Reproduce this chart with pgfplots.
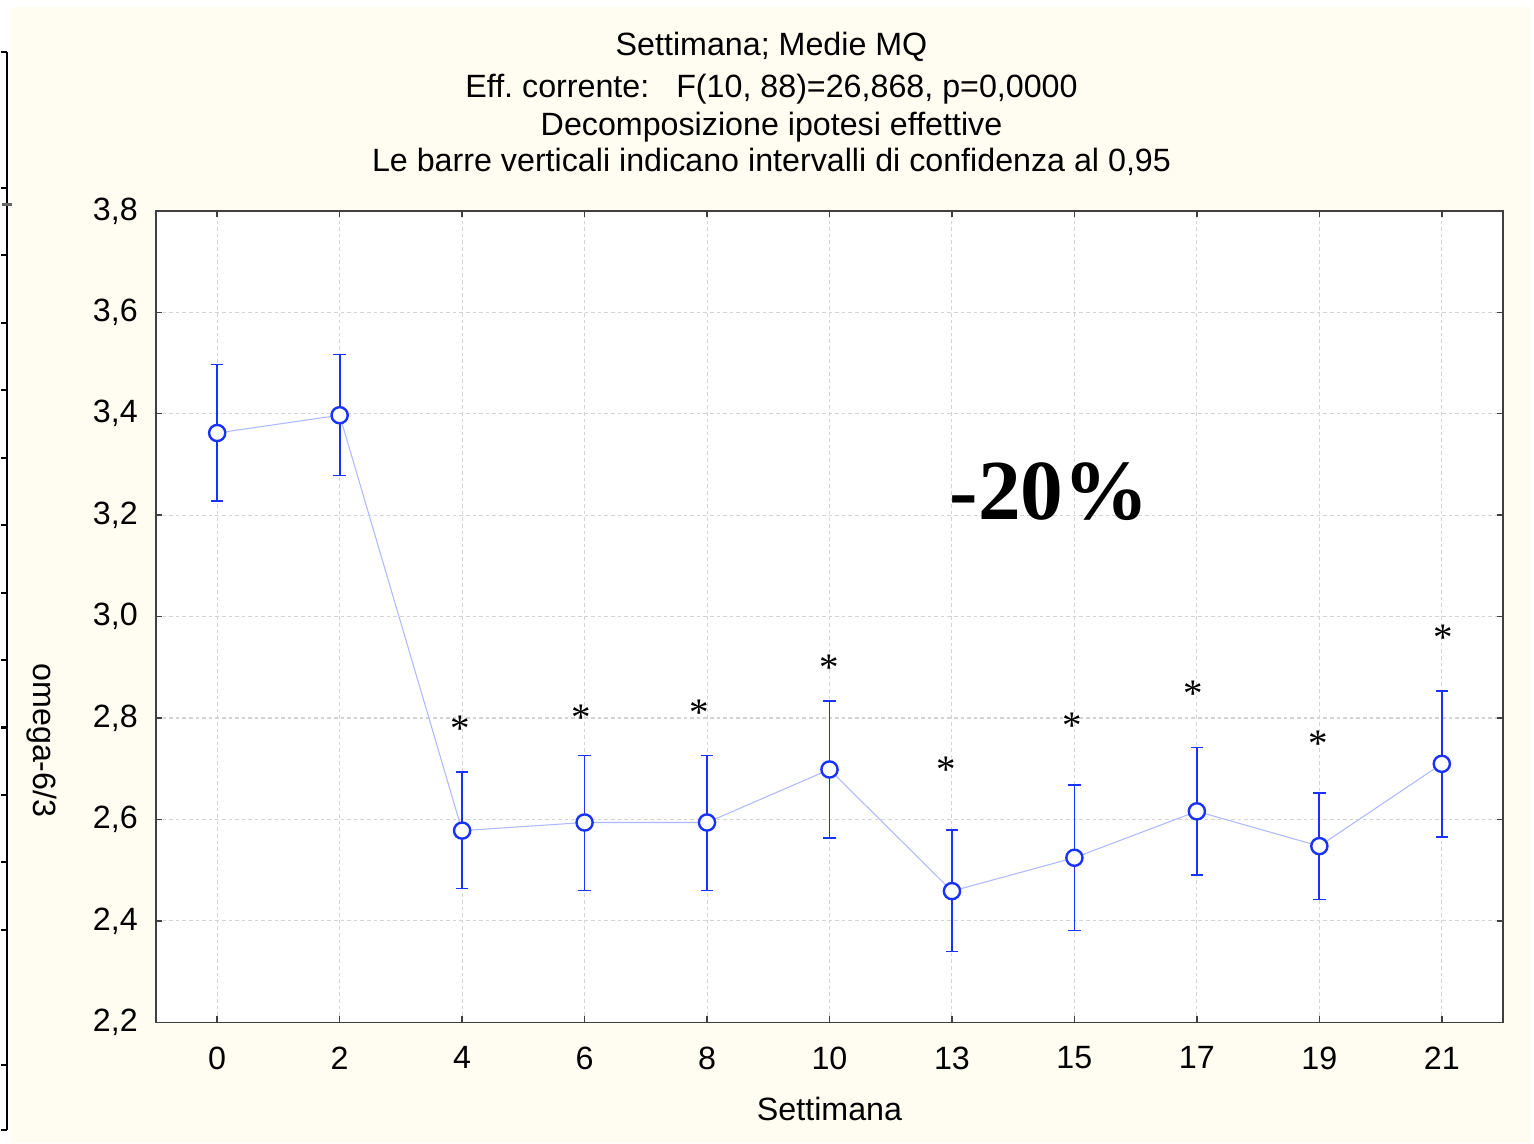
\documentclass[border=0pt]{standalone}
\usepackage{fontspec}
\setmainfont{Liberation Sans}
\newfontfamily\timesfont{Liberation Serif}
\usepackage{pgfplots}
\pgfplotsset{compat=1.18}
\definecolor{cream}{RGB}{255,252,242}
\definecolor{ptblue}{RGB}{25,50,255}
\definecolor{lineblue}{RGB}{175,185,255}
\definecolor{gridgray}{RGB}{212,212,212}
\begin{document}
\frenchspacing
\fontsize{10.75}{12.8}\selectfont
\begin{tikzpicture}
\fill[white] (0pt,0pt) rectangle (511.33pt,381.33pt);
\fill[cream] (3.33pt,0pt) rectangle (510.33pt,379pt);
% left edge ruler
\begin{axis}[at={(2pt,4.33pt)}, anchor=south west, scale only axis,
  width=1pt, height=359.67pt, xmin=0, xmax=1, ymin=52, ymax=1131, y dir=reverse,
  hide x axis, axis y line*=left, clip=false,
  ytick={52,188,255.5,323,390.5,458,525.5,593,660.5,728,795.5,863,930.5,1065.5,1131},
  yticklabels={}, tick align=outside, major tick length=2pt,
  tick label style={overlay, inner sep=0pt},
  axis line style={black, line width=0.7pt}, tick style={black, line width=0.7pt},
  extra y ticks={205}, extra y tick labels={},
  extra y tick style={tick style={black!60, line width=1pt}, tick align=center, major tick length=3.3pt}]
\end{axis}
% main chart
\begin{axis}[at={(51.67pt,40.33pt)}, anchor=south west, scale only axis,
  width=449.33pt, height=270.67pt,
  xmin=-0.5, xmax=10.5, ymin=2.2, ymax=3.8,
  xtick={0,1,2,3,4,5,6,7,8,9,10},
  xticklabels={0,2,4,6,8,10,13,15,17,19,21},
  ytick={2.2,2.4,2.6,2.8,3.0,3.2,3.4,3.6,3.8},
  /pgf/number format/assume math mode=true,
  yticklabel style={xshift=-2.3pt, /pgf/number format/.cd, fixed, fixed zerofill, precision=1, use comma},
  xticklabel style={yshift=-4.3pt},
  tick align=inside, major tick length=2pt,
  tick style={black!75, line width=0.5pt},
  axis line style={black!75, line width=0.5pt},
  grid=major, major grid style={gridgray, dash pattern=on 1.2pt off 1pt, line width=0.35pt},
  axis background/.style={fill=white}]
\addplot[lineblue, line width=0.35pt, forget plot] coordinates {
 (0,3.362) (1,3.397) (2,2.578) (3,2.594) (4,2.594) (5,2.6985)
 (6,2.4587) (7,2.5245) (8,2.616) (9,2.5474) (10,2.7097)};
\addplot[only marks, mark=*, mark size=2.7pt,
  mark options={draw=ptblue, fill=white, line width=0.8pt},
  error bars/.cd, y dir=both, y explicit,
  error bar style={ptblue, line width=0.6pt},
  error mark options={ptblue, rotate=90, mark size=2.1pt, line width=0.55pt}]
  table[x=x, y=y, y error plus=ep, y error minus=em] {
x y ep em
0 3.362 0.135 0.134
1 3.397 0.120 0.119
2 2.578 0.115 0.114
3 2.594 0.132 0.134
4 2.594 0.132 0.134
5 2.6985 0.1345 0.1345
6 2.4587 0.1202 0.1194
7 2.5245 0.1431 0.1438
8 2.616 0.126 0.126
9 2.5474 0.1052 0.1054
10 2.7097 0.1431 0.1438
};
\addplot[only marks, mark=text, text mark={*}, text mark as node=true,
  text mark style={font=\timesfont\fontsize{13}{14}\selectfont, text=black, yshift=-1.6pt}]
  coordinates {
 (1.984,2.7892) (2.971,2.8108) (3.935,2.8207) (5.0,2.9094) (5.951,2.7084)
 (6.98,2.7937) (7.967,2.8581) (8.988,2.7596) (10.008,2.9685)};
\end{axis}
\node[anchor=base] at (257pt,362.67pt) {Settimana; Medie MQ};
\node[anchor=base] at (257pt,348.67pt) {Eff. corrente:\hspace{6pt} F(10, 88)=26,868, p=0,0000};
\node[anchor=base] at (257pt,336pt) {Decomposizione ipotesi effettive};
\node[anchor=base] at (257pt,324pt) {Le barre verticali indicano intervalli di confidenza al 0,95};
\node[anchor=base] at (276.33pt,7.67pt) {Settimana};
\node[rotate=-90] at (13.67pt,134.33pt) {omega-6/3};
\node[anchor=base, font=\timesfont\bfseries\fontsize{28.5}{31}\selectfont] at (349.67pt,208pt) {-20\%};
\end{tikzpicture}
\end{document}
